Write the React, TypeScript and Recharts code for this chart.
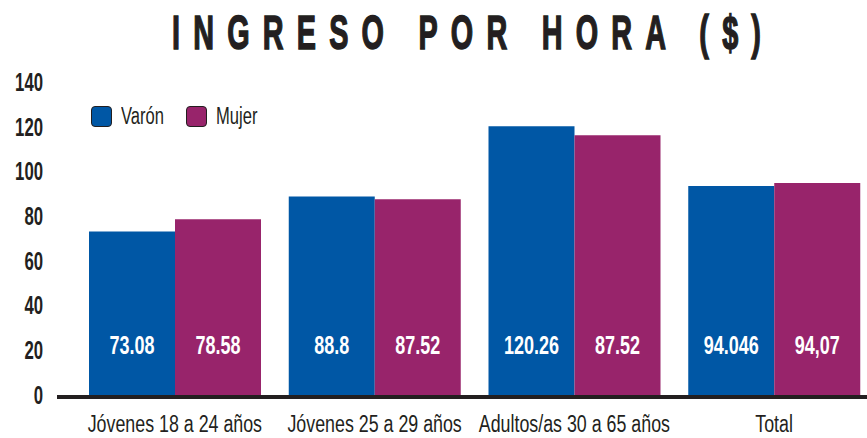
import React from "react";
import { BarChart, Bar, XAxis, YAxis, Legend, LabelList } from "recharts";

const categories = [
  "Jóvenes 18 a 24 años",
  "Jóvenes 25 a 29 años",
  "Adultos/as 30 a 65 años",
  "Total",
];
const varon = [73.08, 88.8, 120.26, 93.5];
const mujer = [78.58, 87.52, 116.2, 94.8];
const varonLabels = ["73.08", "88.8", "120.26", "94.046"];
const mujerLabels = ["78.58", "87.52", "87.52", "94,07"];
const yTicks = [0, 20, 40, 60, 80, 100, 120, 140];

const BLUE = "#0057a5";
const PURPLE = "#98246b";
const INK = "#231f20";
const SANS = '"Liberation Sans", Arial, sans-serif';

const data = categories.map((name, i) => ({
  name,
  varon: varon[i],
  mujer: mujer[i],
  varonLabel: varonLabels[i],
  mujerLabel: mujerLabels[i],
}));

const legendItems = [
  { label: "Varón", color: BLUE },
  { label: "Mujer", color: PURPLE },
];

// no condensed font installed, so squeeze text horizontally
function LegendBox() {
  return (
    <div style={{ display: "flex", alignItems: "center", fontFamily: SANS, fontSize: 23, color: INK }}>
      {legendItems.map((it) => (
        <div key={it.label} style={{ display: "flex", alignItems: "center", width: 95 }}>
          <span
            style={{
              display: "inline-block",
              width: 19,
              height: 19,
              background: it.color,
              border: `1.5px solid ${INK}`,
              borderRadius: 4,
              marginRight: 9,
            }}
          />
          <span style={{ display: "inline-block", transform: "scaleX(0.72)", transformOrigin: "left center" }}>
            {it.label}
          </span>
        </div>
      ))}
    </div>
  );
}

const XTick = (props: any) => {
  const { x, y, payload } = props;
  return (
    <text
      transform={`translate(${x} ${y}) scale(0.775 1)`}
      textAnchor="middle"
      dy="0.71em"
      fill={INK}
      fontFamily={SANS}
      fontSize={23}
    >
      {payload.value}
    </text>
  );
};

const YTick = (props: any) => {
  const { x, y, payload } = props;
  return (
    <text
      transform={`translate(${x} ${y}) scale(0.67 1)`}
      textAnchor="end"
      dy="0.355em"
      fill={INK}
      fontFamily={SANS}
      fontWeight="bold"
      fontSize={25}
    >
      {payload.value}
    </text>
  );
};

const inBarLabel = (props: any) => {
  const { x, y, width, height, value } = props;
  return (
    <text
      transform={`translate(${x + width / 2} ${y + height - 41}) scale(0.72 1)`}
      textAnchor="middle"
      fill="#fff"
      fontFamily={SANS}
      fontWeight="bold"
      fontSize={25}
    >
      {value}
    </text>
  );
};

export default function App() {
  return (
    <div style={{ position: "absolute", left: 0, top: 0, width: 867, height: 438, overflow: "hidden", background: "#fff" }}>
      <div
        style={{
          position: "absolute",
          left: 172,
          top: 9,
          fontFamily: SANS,
          fontWeight: "bold",
          fontSize: 48,
          lineHeight: "48px",
          letterSpacing: 22,
          whiteSpace: "nowrap",
          color: INK,
          transform: "scaleX(0.6)",
          transformOrigin: "left center",
          WebkitTextStroke: `1.5px ${INK}`,
        }}
      >
        INGRESO POR HORA ($)
      </div>
      <BarChart
        width={874}
        height={438}
        data={data}
        margin={{ top: 82, right: 0, bottom: 0, left: 0 }}
        barGap={0}
      >
        <XAxis
          dataKey="name"
          tickLine={false}
          axisLine={{ stroke: INK, strokeWidth: 4, transform: "translate(0 2)" }}
          padding={{ left: 18, right: 0 }}
          height={43}
          tickMargin={15}
          interval={0}
          tick={<XTick />}
        />
        <YAxis
          width={57}
          axisLine={false}
          tickLine={false}
          tickMargin={8}
          domain={[0, 140]}
          ticks={yTicks}
          interval={0}
          tick={<YTick />}
        />
        <Legend
          layout="horizontal"
          verticalAlign="middle"
          align="center"
          content={() => <LegendBox />}
          wrapperStyle={{ left: 91, top: 103, width: "auto" }}
        />
        <Bar dataKey="varon" name="Varón" fill={BLUE} barSize={86} isAnimationActive={false}>
          <LabelList dataKey="varonLabel" content={inBarLabel} />
        </Bar>
        <Bar dataKey="mujer" name="Mujer" fill={PURPLE} barSize={86} isAnimationActive={false}>
          <LabelList dataKey="mujerLabel" content={inBarLabel} />
        </Bar>
      </BarChart>
    </div>
  );
}
